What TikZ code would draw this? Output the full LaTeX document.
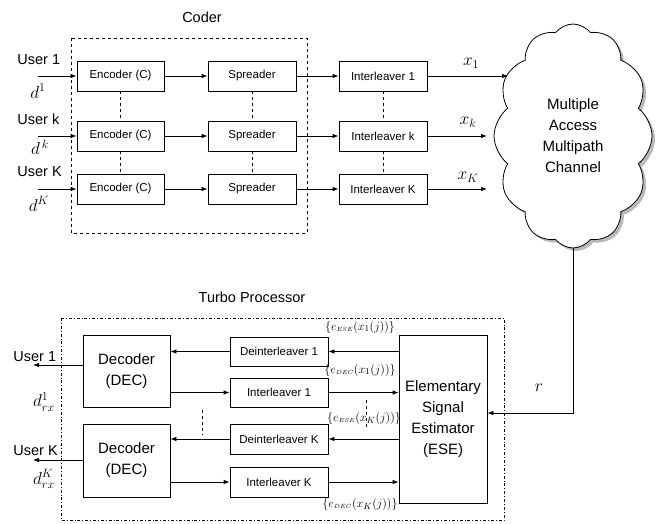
\documentclass[tikz,border=0pt]{standalone}
\usepackage{fontspec}
\setmainfont{Liberation Sans}
\usetikzlibrary{arrows.meta,shapes.symbols,shadows}
\begin{document}
\begin{tikzpicture}[x=1pt,y=-1pt,
  line width=0.8pt,
  arr/.style={-{Latex[length=6pt,width=4.5pt]}},
  sbox/.style={draw, minimum width=88pt, minimum height=30pt, inner sep=0pt, font=\fontsize{11.5}{13}\selectfont},
  bbox/.style={draw, inner sep=0pt, align=center, font=\fontsize{15}{21}\selectfont},
  lbl/.style={font=\fontsize{14.5}{16}\selectfont, inner sep=0pt},
  mlbl/.style={font=\fontsize{17}{18}\selectfont, inner sep=0pt},
  elbl/.style={font=\fontsize{12.5}{13}\selectfont, inner sep=0pt},
  sep/.style={dashed, line width=0.6pt},
]
\useasboundingbox (0,0) rectangle (668,523);

% ---------- Coder ----------
\node[lbl] (coder) at (202,17) {Coder};
\draw[dashed] (71,38) rectangle (307,233);

\node[sbox, minimum width=87pt] (enc1) at (120.5,76) {Encoder (C)};
\node[sbox, minimum width=87pt] (enc2) at (120.5,136) {Encoder (C)};
\node[sbox, minimum width=87pt] (enc3) at (120.5,189) {Encoder (C)};
\node[sbox] (sp1) at (252,76) {Spreader};
\node[sbox] (sp2) at (252,136) {Spreader};
\node[sbox] (sp3) at (252,189) {Spreader};
\node[sbox] (il1t) at (383,76) {Interleaver 1};
\node[sbox] (il2t) at (383,136) {Interleaver k};
\node[sbox] (il3t) at (383,189) {Interleaver K};

\foreach \a/\b in {enc1/enc2,enc2/enc3,sp1/sp2,sp2/sp3,il1t/il2t,il2t/il3t}
  \draw[sep] (\a.south) -- (\b.north);

\coordinate (in1) at (38,76);
\coordinate (in2) at (38,136);
\coordinate (in3) at (38,189);
\draw[arr] (in1) -- (enc1.west);
\draw[arr] (in2) -- (enc2.west);
\draw[arr] (in3) -- (enc3.west);
\foreach \i in {1,2,3} {
  \draw[arr] (enc\i.east) -- (sp\i.west);
  \draw[arr] (sp\i.east) -- (il\i t.west);
}

\node[lbl, anchor=west] (u1) at (17,60) {User 1};
\node[lbl, anchor=west] (uk) at (17,119) {User k};
\node[lbl, anchor=west] (uK) at (17,172) {User K};
\node[mlbl] (d1) at (38,91) {$d^1$};
\node[mlbl] (dk) at (40,147) {$d^{\,k}$};
\node[mlbl] (dK) at (39,204) {$d^K$};

% ---------- Channel ----------
\node[cloud, draw, fill=white, cloud puffs=12, cloud puff arc=105,
      cloud ignores aspect, minimum width=158pt, minimum height=224pt,
      inner sep=0pt, align=center,
      drop shadow={shadow xshift=3pt, shadow yshift=-3pt, fill=black!55},
      font=\fontsize{15}{21}\selectfont] (ch) at (573,136)
      {Multiple\\Access\\Multipath\\Channel};

\coordinate (o1) at (508,76);
\coordinate (o2) at (487,136);
\coordinate (o3) at (487,189);
\draw[arr] (il1t.east) -- (o1);
\draw[arr] (il2t.east) -- (o2);
\draw[arr] (il3t.east) -- (o3);
\node[mlbl] (x1) at (471,63) {$x_1$};
\node[mlbl] (xk) at (468,122) {$x_k$};
\node[mlbl] (xK) at (468,177) {$x_K$};

% ---------- Turbo Processor ----------
\node[lbl] (tp) at (252,297) {Turbo Processor};
\draw[dash dot] (61,318) rectangle (504,520);

\node[bbox, minimum width=87pt, minimum height=72pt] (dec1) at (126.5,371) {Decoder\\(DEC)};
\node[bbox, minimum width=87pt, minimum height=73pt] (dec2) at (126.5,460.5) {Decoder\\(DEC)};
\node[sbox, minimum width=98pt, minimum height=29pt] (dil1) at (279,351.5) {Deinterleaver 1};
\node[sbox, minimum width=98pt, minimum height=29pt] (il1) at (279,392.5) {Interleaver 1};
\node[sbox, minimum width=98pt, minimum height=30pt] (dilK) at (279,439) {Deinterleaver K};
\node[sbox, minimum width=98pt, minimum height=30pt] (ilK) at (279,482) {Interleaver K};
\node[bbox, minimum width=88pt, minimum height=168pt] (ese) at (443,419) {Elementary\\Signal\\Estimator\\(ESE)};

\draw[arr] (ese.west |- dil1.east) -- (dil1.east);
\draw[arr] (il1.east) -- (ese.west |- il1.east);
\draw[arr] (ese.west |- dilK.east) -- (dilK.east);
\draw[arr] (ilK.east) -- (ese.west |- ilK.east);
\draw[arr] (dil1.west) -- (dec1.east |- dil1.west);
\draw[arr] (dec1.east |- il1.west) -- (il1.west);
\draw[arr] (dilK.west) -- (dec2.east |- dilK.west);
\draw[arr] (dec2.east |- ilK.west) -- (ilK.west);

\coordinate (out1) at (33,365);
\coordinate (out2) at (33,460);
\draw[arr] (dec1.west |- out1) -- (out1);
\draw[arr] (dec2.west |- out2) -- (out2);

\node[lbl, anchor=west] (ou1) at (13,357) {User 1};
\node[lbl, anchor=west] (ouK) at (13,451) {User K};
\node[mlbl] (dr1) at (44,402) {$d_{rx}^1$};
\node[mlbl] (drK) at (44,479) {$d_{rx}^K$};

\coordinate (s1a) at (202,410);
\coordinate (s1b) at (202,435);
\coordinate (s2a) at (366,400);
\coordinate (s2b) at (366,427);
\draw[sep] (s1a) -- (s1b);
\draw[sep] (s2a) -- (s2b);

\node[elbl] (e1) at (360,327) {$\{e_{\scriptscriptstyle ESE}(x_1(j))\}$};
\node[elbl] (e2) at (360,370) {$\{e_{\scriptscriptstyle DEC}(x_1(j))\}$};
\node[elbl] (e3) at (364,418) {$\{e_{\scriptscriptstyle ESE}(x_K(j))\}$};
\node[elbl] (e4) at (360,504) {$\{e_{\scriptscriptstyle DEC}(x_K(j))\}$};

% r link
\coordinate (rk) at (579,413);
\draw[arr] (ch.south) -- (ch.south |- rk) -- (ese.east |- rk);
\node[mlbl] (r) at (539,388) {$r$};
\end{tikzpicture}
\end{document}
